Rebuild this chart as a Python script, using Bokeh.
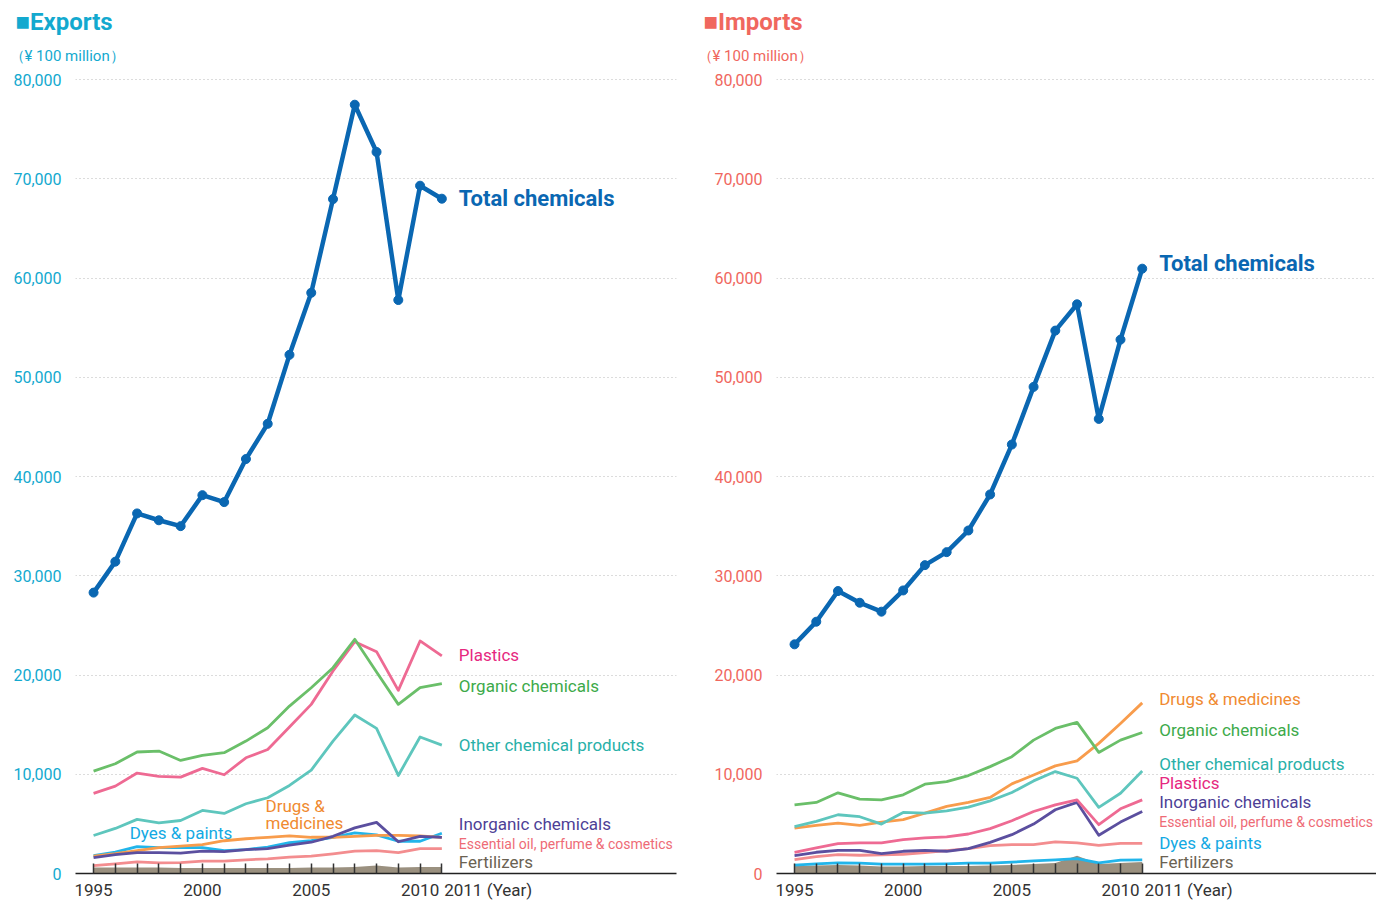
import numpy as np
from bokeh.plotting import figure
from bokeh.models import FixedTicker, NumeralTickFormatter, Range1d, Title
from bokeh.layouts import row
from bokeh.embed import file_html
from bokeh.resources import INLINE
from bokeh.core.properties import value

FONT = "Roboto"

years = list(range(1995, 2012))

# ---------------- Exports (¥100 million) ----------------
exp_total = [28300, 31420, 36280, 35590, 35000, 38120, 37420, 41760, 45310, 52260, 58510, 67950, 77460, 72700, 57780, 69300, 67990]
exp_organic = [10320, 11060, 12240, 12340, 11390, 11900, 12170, 13340, 14690, 16870, 18720, 20740, 23600, 20300, 17040, 18720, 19130]
exp_plastics = [8070, 8800, 10120, 9780, 9710, 10590, 9950, 11660, 12500, 14760, 17040, 20400, 23360, 22350, 18450, 23430, 21920]
exp_other = [3830, 4540, 5450, 5110, 5340, 6350, 6050, 7030, 7630, 8870, 10420, 13340, 15970, 14620, 9880, 13750, 12940]
exp_drugs = [1750, 2000, 2300, 2600, 2750, 2900, 3300, 3500, 3650, 3800, 3650, 3650, 3750, 3850, 3850, 3800, 3650]
exp_dyes = [1800, 2150, 2700, 2600, 2600, 2600, 2300, 2400, 2650, 3100, 3300, 3650, 4100, 3900, 3250, 3250, 4050]
exp_inorganic = [1600, 1900, 2100, 2100, 2050, 2250, 2200, 2400, 2500, 2850, 3150, 3750, 4600, 5150, 3200, 3750, 3650]
exp_essential = [800, 970, 1180, 1080, 1100, 1250, 1250, 1380, 1480, 1650, 1750, 1980, 2250, 2300, 2100, 2500, 2500]
exp_fert = [600, 600, 600, 600, 550, 550, 550, 550, 550, 550, 600, 600, 650, 800, 600, 650, 650]

# ---------------- Imports (¥100 million) ----------------
imp_total = [23090, 25370, 28460, 27280, 26380, 28520, 31070, 32380, 34560, 38190, 43220, 49030, 54700, 57350, 45800, 53790, 60940]
imp_organic = [6920, 7160, 8130, 7490, 7420, 7930, 9000, 9260, 9870, 10770, 11770, 13440, 14620, 15220, 12200, 13440, 14210]
imp_drugs = [4580, 4850, 5080, 4850, 5180, 5420, 6090, 6760, 7160, 7660, 9030, 9930, 10840, 11340, 13110, 15120, 17190]
imp_other = [4720, 5250, 5920, 5720, 4980, 6150, 6090, 6320, 6690, 7320, 8160, 9330, 10270, 9600, 6660, 8090, 10330]
imp_plastics = [2140, 2580, 3010, 3080, 3080, 3410, 3580, 3680, 3980, 4520, 5320, 6250, 6920, 7420, 4920, 6520, 7420]
imp_inorganic = [1810, 2140, 2340, 2340, 2000, 2240, 2340, 2240, 2510, 3140, 3910, 4980, 6420, 7160, 3850, 5180, 6250]
imp_essential = [1400, 1710, 1910, 1840, 1870, 1940, 2110, 2310, 2510, 2810, 2910, 2910, 3180, 3080, 2840, 3040, 3040]
imp_dyes = [840, 970, 1070, 1040, 940, 940, 940, 970, 1040, 1040, 1140, 1270, 1370, 1500, 1070, 1340, 1370]
imp_fert = [750, 800, 850, 800, 700, 700, 750, 750, 750, 800, 850, 950, 1050, 1800, 950, 1050, 1150]

y_ticks = [0, 10000, 20000, 30000, 40000, 50000, 60000, 70000, 80000]
x_label_years = [1995, 2000, 2005, 2010]
NBSP = "\u00a0"

COL = {
    "total": ("#0a67b2", "#0a67b2"),
    "organic": ("#6abf69", "#3daa4a"),
    "plastics": ("#ee6a93", "#e6287f"),
    "other": ("#5ec6bd", "#28b0a8"),
    "drugs": ("#f89c4c", "#f08a30"),
    "dyes": ("#22b5ea", "#13a9e3"),
    "inorganic": ("#5b4f9f", "#4e3f96"),
    "essential": ("#f38d8f", "#ee6b76"),
    "fert": ("#958a78", "#6b6252"),
}


def make_panel(title, accent, series, labels, border_left, border_right, width):
    p = figure(width=width, height=902, output_backend="svg", toolbar_location=None,
               x_range=Range1d(1994.17, 2021.78), y_range=Range1d(0, 80907),
               min_border_left=border_left, min_border_right=border_right,
               min_border_top=70, min_border_bottom=29)
    p.outline_line_color = None
    p.background_fill_color = "white"
    p.border_fill_color = "white"

    # main title (outermost) and unit subtitle (next to the frame)
    p.title.text = "■" + title
    p.title.align = "left"
    p.title.offset = 15 - border_left
    p.title.text_color = accent
    p.title.text_font = FONT
    p.title.text_font_size = "24px"
    p.title.text_font_style = "bold"
    p.title.standoff = 8
    p.add_layout(Title(text="（¥ 100 million）", align="left", offset=9 - border_left, text_color=accent,
                       text_font=FONT, text_font_size="15px", text_font_style="normal", standoff=11),
                 "above")

    # y axis
    p.yaxis.ticker = FixedTicker(ticks=y_ticks)
    p.yaxis.formatter = NumeralTickFormatter(format="0,0")
    p.yaxis.axis_line_color = None
    p.yaxis.major_tick_line_color = None
    p.yaxis.minor_tick_line_color = None
    p.yaxis.major_label_text_color = accent
    p.yaxis.major_label_text_font = FONT
    p.yaxis.major_label_text_font_size = "16px"
    p.yaxis.major_label_standoff = 8

    # x axis
    overrides = {y: (str(y) if y in x_label_years else "") for y in years}
    overrides[2011] = NBSP * 22 + "2011 (Year)"
    p.xaxis.ticker = FixedTicker(ticks=years)
    p.xaxis.major_label_overrides = overrides
    p.xaxis.axis_line_color = "#222222"
    p.xaxis.axis_line_width = 1.6
    p.xaxis.major_tick_in = 10
    p.xaxis.major_tick_out = 0
    p.xaxis.major_tick_line_color = "#333333"
    p.xaxis.major_tick_line_width = 1.5
    p.xaxis.minor_tick_line_color = None
    p.xaxis.major_label_text_color = "#333333"
    p.xaxis.major_label_text_font = FONT
    p.xaxis.major_label_text_font_size = "17px"
    p.xaxis.major_label_standoff = 6

    p.xgrid.grid_line_color = None
    p.ygrid.ticker = FixedTicker(ticks=y_ticks[1:])
    p.ygrid.grid_line_color = "#b8b8b8"
    p.ygrid.grid_line_dash = "1 3"
    p.ygrid.grid_line_width = 1

    # fertilizers band
    p.varea(x=years, y1=[0] * len(years), y2=series["fert"], fill_color=COL["fert"][0], fill_alpha=0.95)

    for key in ["essential", "dyes", "drugs", "inorganic", "other", "plastics", "organic"]:
        p.line(years, series[key], line_color=COL[key][0], line_width=2.8, line_join="round")

    p.line(years, series["total"], line_color=COL["total"][0], line_width=4.5, line_join="round")
    p.scatter(years, series["total"], size=9, fill_color=COL["total"][0], line_color=COL["total"][0])

    for (key, x, y, txt, size, bold) in labels:
        p.text(x=[x], y=[y], text=[txt], text_color=COL[key][1], text_font=value(FONT),
               text_font_size=size, text_baseline="middle", text_align="left",
               text_font_style="bold" if bold else "normal")
    return p


exp_series = dict(total=exp_total, organic=exp_organic, plastics=exp_plastics, other=exp_other,
                  drugs=exp_drugs, dyes=exp_dyes, inorganic=exp_inorganic, essential=exp_essential,
                  fert=exp_fert)
imp_series = dict(total=imp_total, organic=imp_organic, plastics=imp_plastics, other=imp_other,
                  drugs=imp_drugs, dyes=imp_dyes, inorganic=imp_inorganic, essential=imp_essential,
                  fert=imp_fert)

LX = 2011.78
exp_labels = [
    ("total", LX, 68010, "Total chemicals", "22px", True),
    ("plastics", LX, 21965, "Plastics", "17px", False),
    ("organic", LX, 18940, "Organic chemicals", "17px", False),
    ("other", LX, 12900, "Other chemical products", "17px", False),
    ("inorganic", LX, 4940, "Inorganic chemicals", "17px", False),
    ("essential", LX, 3020, "Essential oil, perfume & cosmetics", "14px", False),
    ("fert", LX, 1110, "Fertilizers", "17px", False),
    ("drugs", 2002.9, 6850, "Drugs &", "17px", False),
    ("drugs", 2002.9, 5040, "medicines", "17px", False),
    ("dyes", 1996.66, 4130, "Dyes & paints", "17px", False),
]
imp_labels = [
    ("total", LX, 61460, "Total chemicals", "22px", True),
    ("drugs", LX, 17630, "Drugs & medicines", "17px", False),
    ("organic", LX, 14410, "Organic chemicals", "17px", False),
    ("other", LX, 11080, "Other chemical products", "17px", False),
    ("plastics", LX, 9070, "Plastics", "17px", False),
    ("inorganic", LX, 7250, "Inorganic chemicals", "17px", False),
    ("essential", LX, 5140, "Essential oil, perfume & cosmetics", "14px", False),
    ("dyes", LX, 3120, "Dyes & paints", "17px", False),
    ("fert", LX, 1110, "Fertilizers", "17px", False),
]

p1 = make_panel("Exports", "#13a9cf", exp_series, exp_labels, 75, 12, 688)
p2 = make_panel("Imports", "#f0675e", imp_series, imp_labels, 88, 0, 688)

layout = row(p1, p2, spacing=0)
open("out.html", "w").write(file_html(layout, INLINE))
